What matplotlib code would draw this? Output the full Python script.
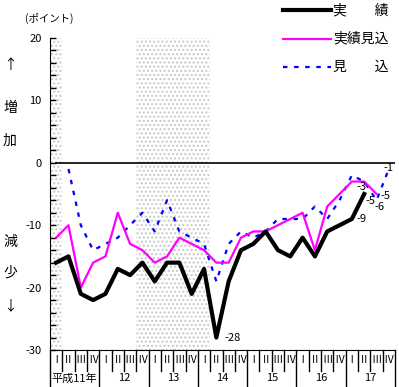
import matplotlib.pyplot as plt
from matplotlib.lines import Line2D
from matplotlib.ticker import MultipleLocator

plt.rcParams['font.family'] = ['Noto Sans CJK JP', 'DejaVu Sans']

quarters = ['Ⅰ', 'Ⅱ', 'Ⅲ', 'Ⅳ'] * 7
years = ['平成11年', '12', '13', '14', '15', '16', '17']

# 実績 (1999 I - 2005 II)
jisseki = [-16, -15, -21, -22, -21, -17, -18, -16, -19, -16, -16, -21, -17, -28,
           -19, -14, -13, -11, -14, -15, -12, -15, -11, -10, -9, -5]
# 実績見込 (1999 I - 2005 III)
jisseki_mikomi = [-12, -10, -20, -16, -15, -8, -13, -14, -16, -15, -12, -13, -14, -16,
                  -16, -12, -11, -11, -10, -9, -8, -14, -7, -5, -3, -3, -5]
# 見込 (1999 II - 2005 IV)
mikomi = [-1, -10, -14, -13, -12, -10, -8, -11, -6, -11, -12, -13, -19, -13,
          -11, -12, -11, -9, -9, -9, -7, -9, -6, -2, -3, -6, -1]

# shaded quarters (first, last)
shaded = [(0, 0), (7, 12)]

fig = plt.figure(figsize=(3.99, 3.87), dpi=100)
ax = fig.add_axes([50 / 399, 37 / 387, 345 / 399, 312 / 387])

for a, b in shaded:
    ax.axvspan(a - 0.5, b + 0.5, facecolor='white', hatch='....',
               edgecolor='#c8c8c8', linewidth=0, zorder=0)

ax.hlines(0, -0.1, 27.5, color='black', lw=1.2, zorder=2)

x_j = list(range(len(jisseki)))
x_jm = list(range(len(jisseki_mikomi)))
x_m = list(range(1, len(mikomi) + 1))

ax.plot(x_m, mikomi, color='#0000ff', lw=1.6, linestyle=(0, (2, 3)), zorder=3)
ax.plot(x_jm, jisseki_mikomi, color='#ff00ff', lw=1.6, zorder=4)
ax.plot(x_j, jisseki, color='black', lw=3.0, zorder=5)

# value labels (series, index, offset px)
px = 0.72
notes = [(jisseki, 13, 0, 8, 0, 'left'),
         (jisseki, 24, 0, 5, 0, 'left'),
         (jisseki, 25, 0, 1, -7, 'left'),
         (jisseki_mikomi, 25, 0, -3, -5, 'center'),
         (jisseki_mikomi, 26, 0, 4, -2, 'left'),
         (mikomi, 25, 1, -2, -7, 'left'),
         (mikomi, 26, 1, 0, 1, 'center')]
for ser, i, shift, dx, dy, ha in notes:
    v = ser[i]
    ax.annotate('-' + str(abs(v)), (i + shift, v), xytext=(dx * px, dy * px),
                textcoords='offset points', ha=ha, va='center', fontsize=8, zorder=6)

ax.set_xlim(-0.5, 27.5)
ax.set_ylim(-30, 20)
ax.yaxis.set_major_locator(MultipleLocator(10))
ax.yaxis.set_minor_locator(MultipleLocator(2))
ax.tick_params(axis='y', which='both', direction='in', length=4, width=1, labelsize=8, pad=6)
ax.set_yticklabels([str(int(t)) for t in ax.get_yticks()])
ax.set_xticks([])
for s in ['top', 'right']:
    ax.spines[s].set_visible(False)

# quarter / year table below the axis
tr = ax.get_xaxis_transform()
for i, q in enumerate(quarters):
    ax.text(i, -0.032, q, transform=tr, ha='center', va='center', fontsize=7.5)
for k in range(29):
    bottom = -0.122 if k % 4 == 0 else -0.068
    ax.plot([k - 0.5, k - 0.5], [0, bottom], transform=tr, color='black', lw=1, clip_on=False)
for j, y in enumerate(years):
    ax.text(j * 4 + 1.5, -0.09, y, transform=tr, ha='center', va='center', fontsize=8)

# left side texts
fig.text(25 / 399, 1 - 18 / 387, '(ポイント)', fontsize=7.5, ha='left', va='center')
for ch, yy in [('↑', 65), ('増', 108), ('加', 141), ('減', 242), ('少', 273), ('↓', 306)]:
    fig.text(10 / 399, 1 - yy / 387, ch, fontsize=10, ha='center', va='center')

# legend
leg = [('実\u3000\u3000績', 'black', 3.0, '-'),
       ('実績見込', '#ff00ff', 1.6, '-'),
       ('見\u3000\u3000込', '#0000ff', 1.6, (0, (2, 3)))]
for r, (lab, c, lw, ls) in enumerate(leg):
    yy = 1 - (10 + r * 28.5) / 387
    fig.add_artist(Line2D([283 / 399, 331 / 399], [yy, yy], color=c, lw=lw, linestyle=ls))
    fig.text(333 / 399, yy, lab, fontsize=10, ha='left', va='center')

fig.savefig('out.png', dpi=100)
